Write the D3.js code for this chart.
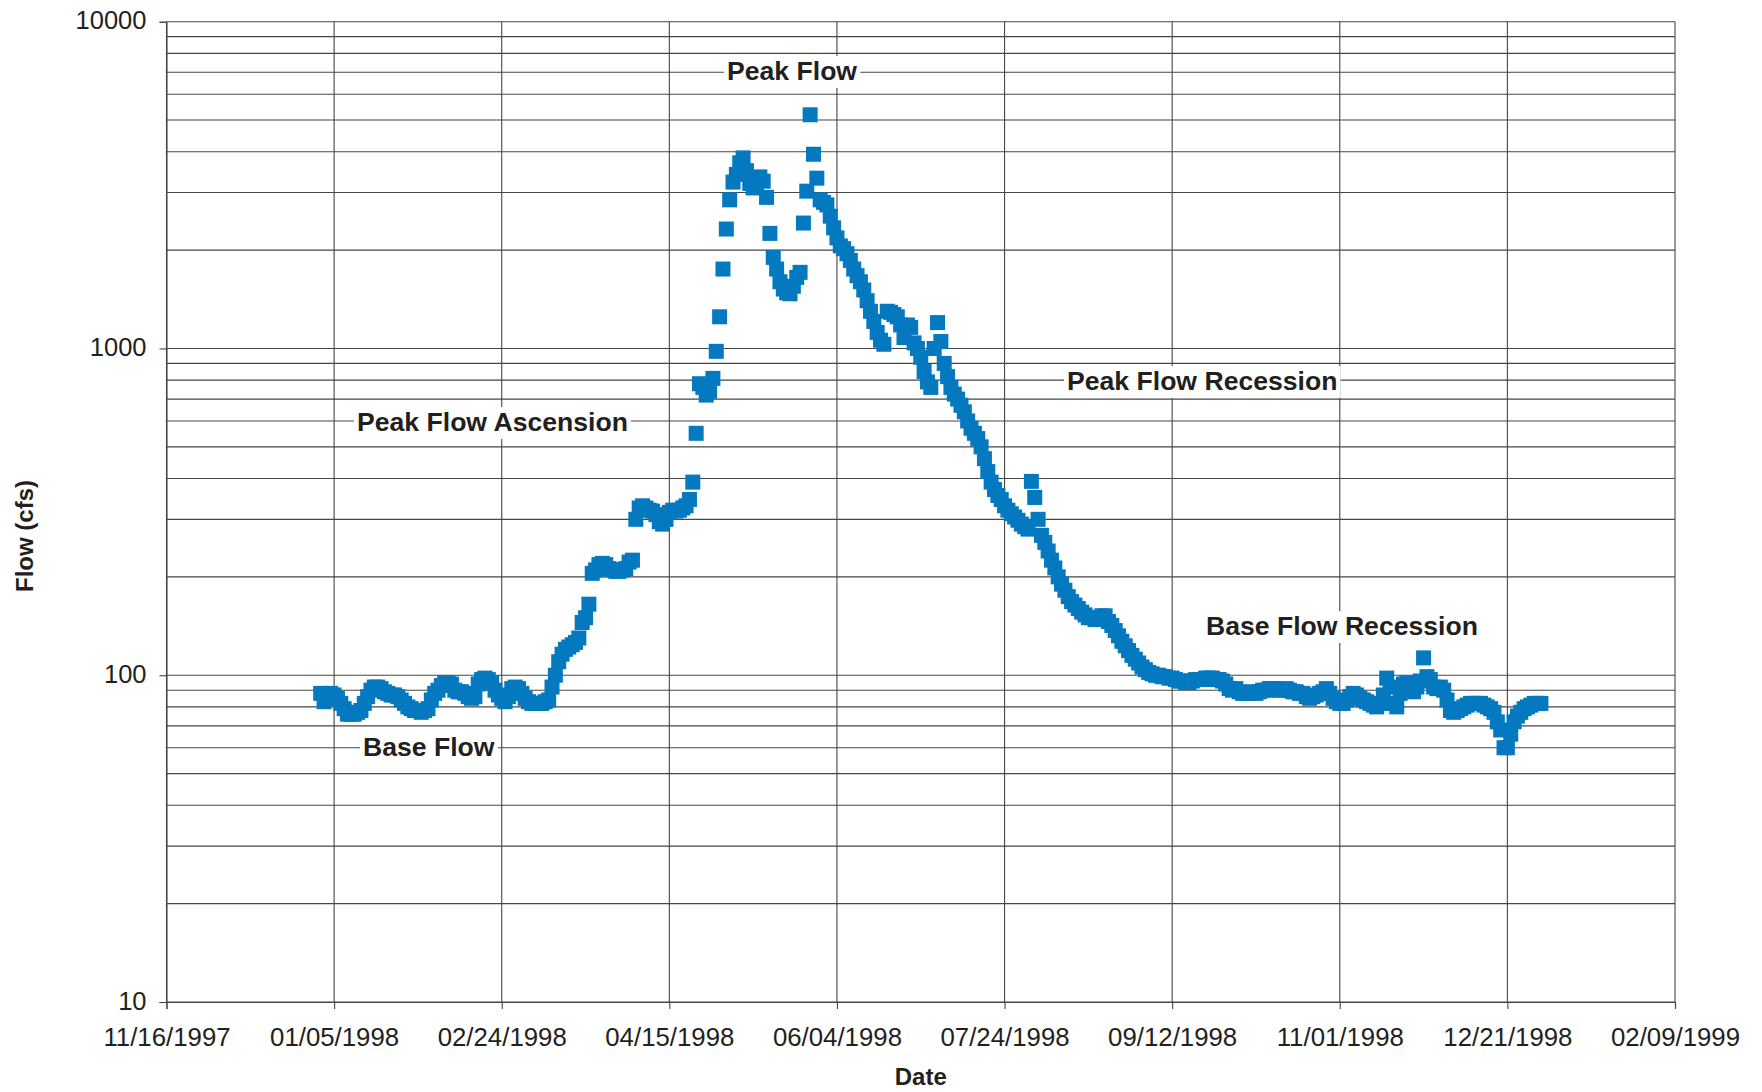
<!DOCTYPE html>
<html>
<head>
<meta charset="utf-8">
<script src="https://cdn.jsdelivr.net/npm/d3@7"></script>
<style>
  body { margin: 0; background: #fff; }
  svg text { font-family: "Liberation Sans", Arial, Helvetica, sans-serif; fill: #231f20; }
</style>
</head>
<body>
<div id="chart"></div>
<script>
// daily mean flow (cfs), calendar year 1998, one array per month
const startDate = "1998-01-01";
const jan = [88,83,85,88,87,85,82,79,76,76, 76,77,78,82,86,90,92,92,91,89, 88,87,87,86,84,82,80,79,78,78, 77];
const feb = [78,79,84,88,90,93,95,95,94,90, 89,89,88,86,85,86,94,97,98,97, 95,90,87,85,83,86,91,92];
const mar = [91,88,85,83,82,82,82,82,83,84, 92,100,110,116,120,122,124,126,130,145, 150,165,205,210,218,220,218,212,210,208, 208];
const apr = [210,212,222,225,300,325,330,325,320,318, 310,295,290,300,315,320,318,320,325,330, 345,390,550,780,760,720,740,810,980,1250];
const may = [1750,2320,2850,3230,3410,3700,3830,3500,3200,3100, 3200,3350,3250,2900,2250,1900,1750,1600,1520,1480, 1470,1550,1650,1710,2420,3030,5190,3930,3320,2850, 2800];
const jun = [2750,2540,2340,2180,2060,2020,1950,1860,1750,1670, 1600,1510,1400,1300,1210,1120,1060,1030,1300,1290, 1270,1250,1180,1080,1180,1160,1040,1000,940,850];
const jul = [790,760,1000,1200,1050,900,820,760,725,700, 670,640,600,570,550,530,500,460,420,390, 370,355,345,330,320,312,305,298,290,285, 280];
const aug = [392,350,300,268,255,240,225,213,200,190, 182,174,168,164,160,156,153,150,150,148, 150,152,152,146,142,137,132,127,123,119, 115];
const sep = [112,109,106,104,102,101,100,100,99,99, 98,98,97,96,96,95,95,96,97,97, 97,98,98,98,97,97,96,94,91,90];
const oct = [91,89,88,88,88,89,88,89,90,90, 91,91,91,90,90,91,90,89,89,88, 88,86,85,86,87,88,89,91,88,85, 83];
const nov = [82,82,84,86,88,87,85,84,83,82, 81,80,82,87,98,92,82,80,88,94, 95,92,89,92,96,113,99,97,92,91];
const dec = [92,90,84,78,77,78,79,80,81,82, 82,82,82,81,80,79,77,72,68,60, 60,66,72,75,77,79,80,81,82,82, 82];
const months = [jan, feb, mar, apr, may, jun, jul, aug, sep, oct, nov, dec];

const xDomain = ["1997-11-16", "1999-02-09"];
const xTickStepDays = 50;
const yDomain = [10, 10000];
const yTickLabels = [10, 100, 1000, 10000];
const annotations = ["Peak Flow", "Peak Flow Ascension", "Peak Flow Recession", "Base Flow", "Base Flow Recession"];
const annotationPos = [[727, 80], [357, 431], [1067, 390], [363, 756], [1206, 635]];

const width = 1762, height = 1092;
const plot = { left: 166.5, right: 1675, top: 21.7, bottom: 1002 };
const gridColor = "#464646";
const markerColor = "#0479c0";
const markerSize = 15;

const parse = d3.utcParse("%Y-%m-%d");
const t0 = parse(startDate);
const points = months.flat().map((v, i) => ({ date: d3.utcDay.offset(t0, i), flow: v }));

const x = d3.scaleUtc()
    .domain(xDomain.map(parse))
    .range([plot.left, plot.right]);

const y = d3.scaleLog()
    .domain(yDomain)
    .range([plot.bottom, plot.top]);

const nTicks = Math.round(d3.utcDay.count(x.domain()[0], x.domain()[1]) / xTickStepDays);
const xTicks = d3.range(0, nTicks + 1).map(i => d3.utcDay.offset(x.domain()[0], i * xTickStepDays));

const svg = d3.select("#chart").append("svg")
    .attr("width", width)
    .attr("height", height)
    .style("display", "block");

svg.append("rect").attr("width", width).attr("height", height).attr("fill", "#fff");

// horizontal grid (every log minor step)
svg.append("g").selectAll("line")
    .data(y.ticks())
    .join("line")
    .attr("x1", plot.left).attr("x2", plot.right)
    .attr("y1", d => y(d)).attr("y2", d => y(d))
    .attr("stroke", gridColor)
    .attr("stroke-width", 1.1);

// vertical grid
svg.append("g").selectAll("line")
    .data(xTicks)
    .join("line")
    .attr("x1", d => x(d)).attr("x2", d => x(d))
    .attr("y1", plot.top).attr("y2", plot.bottom)
    .attr("stroke", gridColor)
    .attr("stroke-width", 1.1);

// x axis
const xAxis = svg.append("g")
    .attr("transform", "translate(0," + plot.bottom + ")")
    .call(d3.axisBottom(x)
        .tickValues(xTicks)
        .tickSize(7)
        .tickPadding(19)
        .tickFormat(d3.utcFormat("%m/%d/%Y")));
xAxis.select(".domain").attr("stroke", gridColor).attr("stroke-width", 1.1);
xAxis.selectAll(".tick line").attr("stroke", gridColor).attr("stroke-width", 1.1);
xAxis.selectAll("text").attr("font-size", 25.8).attr("fill", "#231f20")
    .style("font-family", '"Liberation Sans", Arial, sans-serif');

// y axis
const yAxis = svg.append("g")
    .attr("transform", "translate(" + plot.left + ",0)")
    .call(d3.axisLeft(y)
        .tickValues(yTickLabels)
        .tickSize(7)
        .tickPadding(13)
        .tickFormat(d3.format("d")));
yAxis.select(".domain").attr("stroke", gridColor).attr("stroke-width", 1.1);
yAxis.selectAll(".tick line").attr("stroke", gridColor).attr("stroke-width", 1.1);
yAxis.selectAll("text").attr("font-size", 25.5).attr("dy", "0.28em").attr("fill", "#231f20")
    .style("font-family", '"Liberation Sans", Arial, sans-serif');

// axis titles
svg.append("text")
    .attr("x", (plot.left + plot.right) / 2)
    .attr("y", 1085)
    .attr("text-anchor", "middle")
    .attr("font-size", 24)
    .attr("font-weight", "bold")
    .text("Date");

svg.append("text")
    .attr("transform", "translate(33,536) rotate(-90)")
    .attr("text-anchor", "middle")
    .attr("font-size", 24)
    .attr("font-weight", "bold")
    .text("Flow (cfs)");

// daily flow markers
svg.append("g").selectAll("rect")
    .data(points)
    .join("rect")
    .attr("x", d => x(d.date) - markerSize / 2)
    .attr("y", d => y(d.flow) - markerSize / 2)
    .attr("width", markerSize)
    .attr("height", markerSize)
    .attr("fill", markerColor);

// annotation labels on white boxes
const notes = svg.append("g");
annotations.forEach((label, i) => {
    const g = notes.append("g");
    const box = g.append("rect").attr("fill", "#fff");
    const t = g.append("text")
        .attr("x", annotationPos[i][0])
        .attr("y", annotationPos[i][1])
        .attr("font-size", 26.6)
        .attr("font-weight", "bold")
        .text(label);
    const bb = t.node().getBBox();
    box.attr("x", bb.x - 3).attr("y", bb.y)
        .attr("width", bb.width + 6).attr("height", bb.height + 2);
});
</script>
</body>
</html>
